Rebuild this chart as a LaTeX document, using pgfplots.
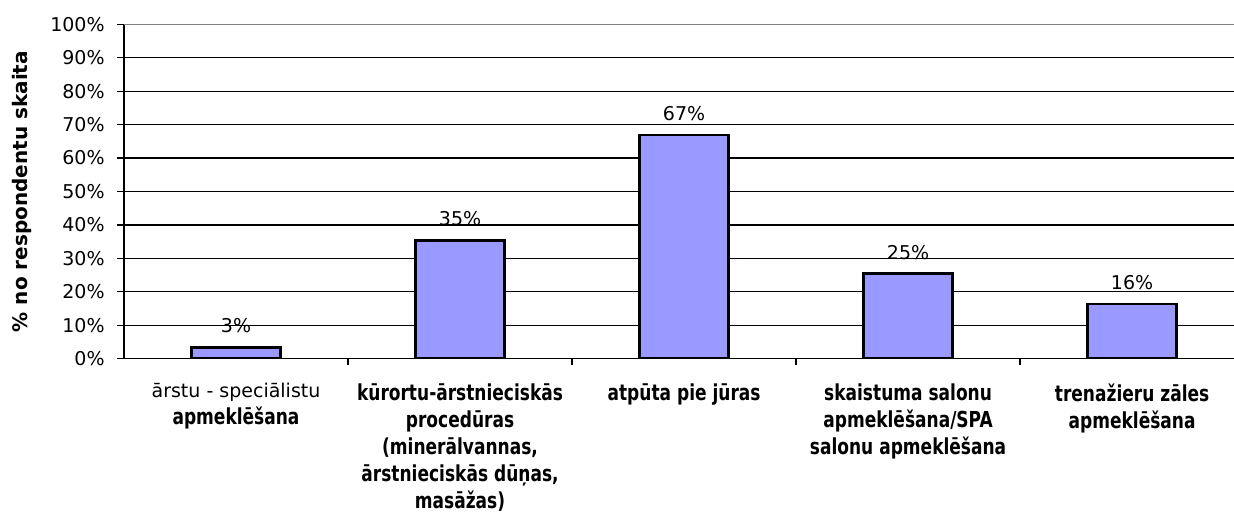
\documentclass[border=0pt]{standalone}
\usepackage{pgfplots}
\pgfplotsset{compat=1.18}
\usepackage{fontspec}
\setmainfont{DejaVu Sans}
\newfontfamily\cbf{DejaVu Sans Bold}[FakeStretch=0.774]
\newfontfamily\ybf{DejaVu Sans Bold}
\newfontfamily\reg{DejaVu Sans}
\definecolor{barfill}{HTML}{9999FF}
\begin{document}
\begin{tikzpicture}
\begin{axis}[
  scale only axis, width=555pt, height=167.2pt,
  xmin=-0.5, xmax=4.455, ymin=0, ymax=100,
  axis x line*=bottom, axis y line*=left,
  axis line style={black, line width=0.65pt, -},
  /pgf/number format/assume math mode=true,
  tick align=outside,
  major tick length=3.5pt, minor tick length=3pt,
  ytick={0,10,...,90},
  extra y ticks={100},
  extra y tick style={grid style={gray, line width=0.65pt}},
  ymajorgrids,
  grid style={black, line width=0.65pt},
  yticklabel={\pgfmathprintnumber{\tick}\%},
  yticklabel style={font=\fontsize{9.5}{11}\selectfont, anchor=east, inner sep=0pt, xshift=-6pt},
  ytick style={black, line width=0.65pt},
  xtick={0,1,2,3,4},
  minor xtick={0.5,1.5,2.5,3.5},
  major x tick style={draw=none},
  minor x tick style={black, line width=0.65pt},
  xticklabels={
    {{\reg\fontsize{9.5}{13.5}\selectfont ārstu - speciālistu}\\apmeklēšana},
    {kūrortu-ārstnieciskās\\procedūras\\(minerālvannas,\\ārstnieciskās dūņas,\\masāžas)},
    {atpūta pie jūras},
    {skaistuma salonu\\apmeklēšana/SPA\\salonu apmeklēšana},
    {trenažieru zāles\\apmeklēšana}
  },
  xticklabel style={font=\cbf\fontsize{11}{13.5}\selectfont, align=center, anchor=north, inner sep=0pt, yshift=-8.7pt},
  ylabel={\ybf \% no respondentu skaita},
  ylabel style={font=\ybf\fontsize{10}{12}\selectfont, at={(axis description cs:-0.0919,0.5)}, anchor=center},
]
\addplot[ybar, bar width=44.5pt, bar shift=0pt, fill=barfill, draw=black, line width=1.35pt,
  nodes near coords={\pgfmathprintnumber[fixed,precision=0]{\pgfplotspointmeta}\%},
  nodes near coords style={font=\reg\fontsize{9.5}{11}\selectfont, anchor=base, inner sep=0pt, yshift=7.2pt, black}]
  coordinates {(0,3.4) (1,35.4) (2,66.9) (3,25.4) (4,16.4)};
\end{axis}
\pgfresetboundingbox
\path[use as bounding box] (-62pt,-77.65pt) rectangle (555pt,179.35pt);
\end{tikzpicture}
\end{document}
